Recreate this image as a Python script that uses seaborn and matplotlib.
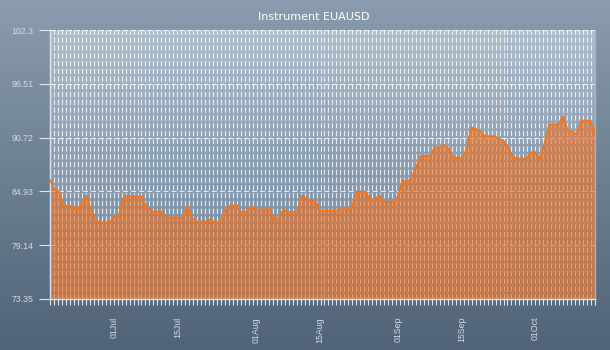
import numpy as np
import pandas as pd
import matplotlib
matplotlib.use("Agg")
import matplotlib.pyplot as plt
import matplotlib.dates as mdates
from matplotlib.ticker import FixedLocator
from matplotlib.colors import LinearSegmentedColormap
import seaborn as sns

# ---------------- data ----------------
title = "Instrument EUAUSD"

dates = [
    "2013-06-17", "2013-06-18", "2013-06-19", "2013-06-20", "2013-06-22", "2013-06-23",
    "2013-06-24", "2013-06-25", "2013-06-26", "2013-06-27", "2013-06-28", "2013-06-30",
    "2013-07-01", "2013-07-02", "2013-07-03", "2013-07-04", "2013-07-05", "2013-07-07",
    "2013-07-08", "2013-07-09", "2013-07-10", "2013-07-11", "2013-07-12", "2013-07-16",
    "2013-07-17", "2013-07-18", "2013-07-19", "2013-07-21", "2013-07-22", "2013-07-23",
    "2013-07-24", "2013-07-26", "2013-07-28", "2013-07-29", "2013-07-30", "2013-07-31",
    "2013-08-01", "2013-08-02", "2013-08-04", "2013-08-05", "2013-08-06", "2013-08-07",
    "2013-08-08", "2013-08-10", "2013-08-11", "2013-08-12", "2013-08-13", "2013-08-14",
    "2013-08-15", "2013-08-19", "2013-08-20", "2013-08-21", "2013-08-22", "2013-08-23",
    "2013-08-25", "2013-08-26", "2013-08-27", "2013-08-28", "2013-08-29", "2013-08-31",
    "2013-09-01", "2013-09-02", "2013-09-03", "2013-09-04", "2013-09-05", "2013-09-06",
    "2013-09-08", "2013-09-09", "2013-09-10", "2013-09-11", "2013-09-12", "2013-09-13",
    "2013-09-15", "2013-09-16", "2013-09-17", "2013-09-18", "2013-09-19", "2013-09-20",
    "2013-09-22", "2013-09-23", "2013-09-24", "2013-09-25", "2013-09-26", "2013-09-27",
    "2013-09-29", "2013-09-30", "2013-10-01", "2013-10-02", "2013-10-03", "2013-10-04",
    "2013-10-06", "2013-10-07", "2013-10-08", "2013-10-10", "2013-10-11", "2013-10-13",
    "2013-10-14",
]

values = [
    86.16, 85.16, 84.87, 83.36, 83.36, 82.87,
    83.74, 84.44, 82.82, 81.85, 81.56, 81.56,
    82.18, 82.31, 84.22, 84.47, 84.40, 84.38,
    83.25, 82.93, 82.57, 82.93, 82.12, 82.12,
    83.36, 82.07, 81.69, 81.67, 81.93, 81.50,
    81.67, 83.39, 83.41, 82.44, 82.85, 83.28,
    82.85, 83.00, 83.00, 81.78, 82.12, 83.00,
    82.71, 82.71, 84.44, 84.19, 83.88, 83.88,
    82.85, 82.85, 83.18, 82.84, 83.38, 84.89,
    84.89, 83.79, 84.17, 84.49, 83.79, 83.79,
    84.44, 86.16, 85.87, 86.51, 87.59, 88.74,
    88.74, 89.68, 89.63, 89.92, 89.53, 88.55,
    88.55, 89.46, 91.83, 91.61, 91.36, 90.86,
    90.86, 90.54, 90.39, 89.63, 88.67, 88.45,
    88.45, 89.10, 89.14, 88.49, 90.11, 92.11,
    92.11, 92.97, 91.54, 91.11, 92.54, 92.54,
    91.11,
]

y_ticks = [73.35, 79.14, 84.93, 90.72, 96.51, 102.3]
y_tick_labels = ["73.35", "79.14", "84.93", "90.72", "96.51", "102.3"]
x_tick_dates = ["2013-07-01", "2013-07-15", "2013-08-01", "2013-08-15",
                "2013-09-01", "2013-09-15", "2013-10-01"]
x_tick_labels = ["01Jul", "15Jul", "01Aug", "15Aug", "01Sep", "15Sep", "01Oct"]

# ---------------- style ----------------
sns.set_style("ticks")
plt.rcParams['font.family'] = ['Liberation Sans', 'DejaVu Sans']
plt.rcParams['lines.scale_dashes'] = False

df = pd.DataFrame({"date": pd.to_datetime(dates), "value": values})

W, H = 610, 350
fig = plt.figure(figsize=(W / 100, H / 100), dpi=100)

# figure background gradient
bg = fig.add_axes([0, 0, 1, 1], zorder=-10)
bg_cmap = LinearSegmentedColormap.from_list("bg", ["#8a9cae", "#516378"])
bg.imshow(np.linspace(0, 1, 256).reshape(-1, 1), aspect="auto", cmap=bg_cmap,
          extent=[0, 1, 0, 1])
bg.axis("off")

rect = [50 / W, 51 / H, 545 / W, 269 / H]

# plot-area gradient
pa = fig.add_axes(rect, zorder=-5)
pa_cmap = LinearSegmentedColormap.from_list("pa", ["#adbdcc", "#8a9db1", "#72869b"])
pa.imshow(np.linspace(0, 1, 256).reshape(-1, 1), aspect="auto", cmap=pa_cmap,
          extent=[0, 1, 0, 1])
pa.axis("off")

ax = fig.add_axes(rect, zorder=0)
ax.patch.set_visible(False)

ax.fill_between(df["date"], df["value"], y_ticks[0], color="#ee7020",
                alpha=0.62, lw=0, zorder=2)
sns.lineplot(data=df, x="date", y="value", ax=ax, color="#f2761e",
             linewidth=1.4, zorder=3)

x0, x1 = df["date"].iloc[0], df["date"].iloc[-1]
ax.set_xlim(x0, x1)
ax.set_ylim(y_ticks[0], y_ticks[-1])
ax.set_xlabel("")
ax.set_ylabel("")

# ticks
ax.set_yticks(y_ticks)
ax.set_yticklabels(y_tick_labels)
ax.set_xticks(pd.to_datetime(x_tick_dates))
ax.set_xticklabels(x_tick_labels, rotation=90)
n0, n1 = mdates.date2num(x0), mdates.date2num(x1)
ax.xaxis.set_minor_locator(FixedLocator(np.linspace(n0, n1, 138)))

tick_col = "#dfe5eb"
lab_col = "#d3dae2"
ax.tick_params(axis="x", which="major", length=0, pad=13, labelsize=6.3,
               labelcolor=lab_col)
ax.tick_params(axis="x", which="minor", length=4, width=0.8, color=tick_col,
               direction="out", bottom=True)
ax.tick_params(axis="y", which="major", length=8, width=0.8, color=tick_col,
               pad=4, labelsize=6.3, labelcolor=lab_col, left=True)

# grid
ax.set_axisbelow(True)
ax.xaxis.grid(False, which="major")
ax.xaxis.grid(True, which="minor", color="white", alpha=0.8, lw=0.8,
              linestyle=(0, (3.8, 1.8)))
ax.yaxis.grid(True, which="major", color="white", alpha=0.8, lw=0.8,
              linestyle=(0, (3.8, 2.0)))

for s in ["top"]:
    ax.spines[s].set_visible(False)
ax.spines["left"].set_color(tick_col)
ax.spines["bottom"].set_color(tick_col)
ax.spines["left"].set_linewidth(1.0)
ax.spines["bottom"].set_linewidth(1.0)
ax.spines["right"].set_color("#a3b3c3")
ax.spines["right"].set_linewidth(1.0)

fig.text(314 / W, 1 - 17 / H, title, ha="center", va="center", color="white",
         fontsize=8, family=["DejaVu Sans"])

fig.savefig("out.png", dpi=100)
